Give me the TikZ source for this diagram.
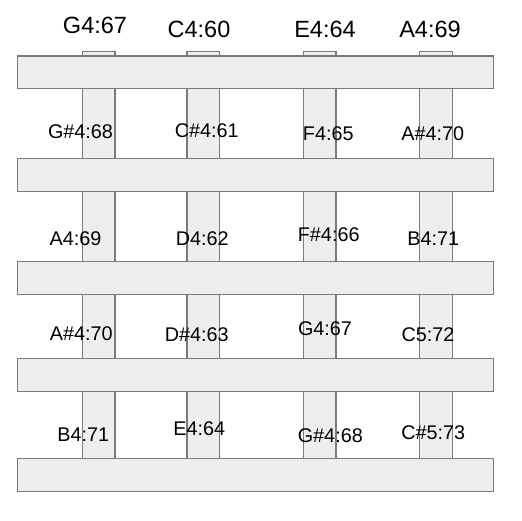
\documentclass[tikz,border=0pt]{standalone}
\usepackage{fontspec}
\setmainfont{Liberation Sans}
\definecolor{barfill}{HTML}{EEEEEE}
\definecolor{barline}{HTML}{7A7A7A}
\begin{document}
\begin{tikzpicture}[x=1bp,y=-1bp,
  strip/.style={fill=barfill,draw=barline,line width=1.3bp},
  toplabel/.style={anchor=base,inner sep=0pt,font=\fontsize{23.5bp}{25bp}\selectfont},
  notelabel/.style={anchor=base,inner sep=0pt,font=\fontsize{19.8bp}{22bp}\selectfont}]
\useasboundingbox (0,0) rectangle (522,521);
% vertical strips
\foreach \a/\b in {82.5/115,187/219.7,303.5/336,419.5/452.3}
  \draw[strip] (\a,51.3) rectangle (\b,491.3);
% horizontal bars
\foreach \t/\u in {56/88.7,158.7/191.3,261.3/294.3,358.7/391.3,458.7/491.3}
  \draw[strip] (17.7,\t) rectangle (493.3,\u);
% top labels
\node[toplabel] (t1) at (95,33.3) {G4:67};
\node[toplabel] (t2) at (199,37.8) {C4:60};
\node[toplabel] (t3) at (325,38) {E4:64};
\node[toplabel] (t4) at (430,38) {A4:69};
% row 1
\node[notelabel] (r1a) at (80.5,138.3) {G\#4:68};
\node[notelabel] (r1b) at (206.8,138) {C\#4:61};
\node[notelabel] (r1c) at (328.3,141) {F4:65};
\node[notelabel] (r1d) at (432.8,141) {A\#4:70};
% row 2
\node[notelabel] (r2a) at (75.5,245) {A4:69};
\node[notelabel] (r2b) at (202.2,245) {D4:62};
\node[notelabel] (r2c) at (328.7,241.7) {F\#4:66};
\node[notelabel] (r2d) at (433.3,245) {B4:71};
% row 3
\node[notelabel] (r3a) at (81.2,340.7) {A\#4:70};
\node[notelabel] (r3b) at (196.7,341.3) {D\#4:63};
\node[notelabel] (r3c) at (325,335.3) {G4:67};
\node[notelabel] (r3d) at (428,341) {C5:72};
% row 4
\node[notelabel] (r4a) at (83.3,441) {B4:71};
\node[notelabel] (r4b) at (199.2,435) {E4:64};
\node[notelabel] (r4c) at (330.3,442.3) {G\#4:68};
\node[notelabel] (r4d) at (433.3,439) {C\#5:73};
\end{tikzpicture}
\end{document}
